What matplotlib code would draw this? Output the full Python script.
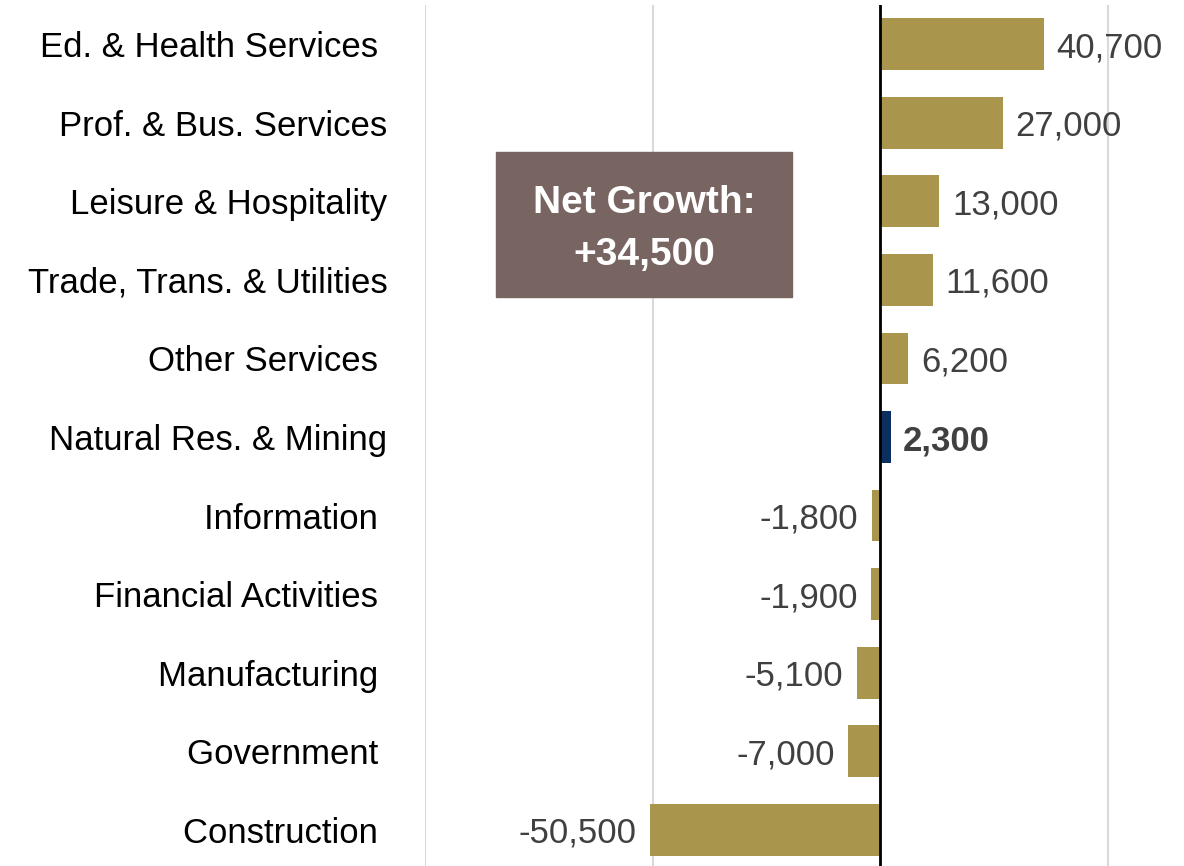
import matplotlib.pyplot as plt
from matplotlib.patches import Rectangle

# job change by sector
sectors = ["Ed. & Health Services ", "Prof. & Bus. Services", "Leisure & Hospitality",
           "Trade, Trans. & Utilities", "Other Services ", "Natural Res. & Mining",
           "Information ", "Financial Activities ", "Manufacturing ", "Government ",
           "Construction "]
# bar lengths as drawn in the picture (first bar is drawn shorter than its label)
bar_values = [36000, 27000, 13000, 11600, 6200, 2300, -1800, -1900, -5100, -7000, -50500]
value_labels = ["40,700", "27,000", "13,000", "11,600", "6,200", "2,300",
                "-1,800", "-1,900", "-5,100", "-7,000", "-50,500"]
highlight = "Natural Res. & Mining"
net_growth = 34500

gold = '#A9954B'
navy = '#0C2F62'
text_col = '#404040'
plt.rcParams['font.family'] = ['Liberation Sans Narrow', 'Liberation Sans', 'DejaVu Sans']

fig = plt.figure(figsize=(11.84, 8.66), dpi=100)
ax = fig.add_axes([425 / 1184, -3 / 866, 1 - 425 / 1184, 864 / 866])

ypos = list(range(len(sectors)))
colors = [navy if s == highlight else gold for s in sectors]
ax.barh(ypos, bar_values, height=0.66, color=colors, zorder=3)
ax.set_ylim(len(sectors) - 0.5, -0.5)
ax.set_xlim(-100000, 66800)

for y, v, lbl, s in zip(ypos, bar_values, value_labels, sectors):
    bold = 'bold' if s == highlight else 'normal'
    if v >= 0:
        ax.text(v + 2800, y, lbl, ha='left', va='center_baseline', fontsize=25,
                color=text_col, fontweight=bold)
    else:
        ax.text(v - 3000, y, lbl, ha='right', va='center_baseline', fontsize=25,
                color=text_col, fontweight=bold)

ax.set_yticks(ypos)
ax.set_yticklabels(sectors, fontsize=25, color='black')
ax.tick_params(axis='y', length=0, pad=27)
ax.set_xticks([-100000, -50000, 0, 50000])
ax.set_xticklabels([])
ax.tick_params(axis='x', length=0)
ax.grid(axis='x', color='#D9D9D9', linewidth=1.5, zorder=0)
ax.axvline(0, color='black', linewidth=2, zorder=4)
for sp in ax.spines.values():
    sp.set_visible(False)

# net growth call-out box
fig.patches.append(Rectangle((496 / 1184, 1 - 297 / 866), 296 / 1184, 145 / 866,
                             transform=fig.transFigure, color='#786461', zorder=5))
fig.text(644 / 1184, 1 - 229 / 866, f"Net Growth:\n+{net_growth:,}", ha='center',
         va='center', color='white', fontsize=28, fontweight='bold',
         linespacing=1.6, zorder=6)

fig.savefig('out.png', dpi=100)
